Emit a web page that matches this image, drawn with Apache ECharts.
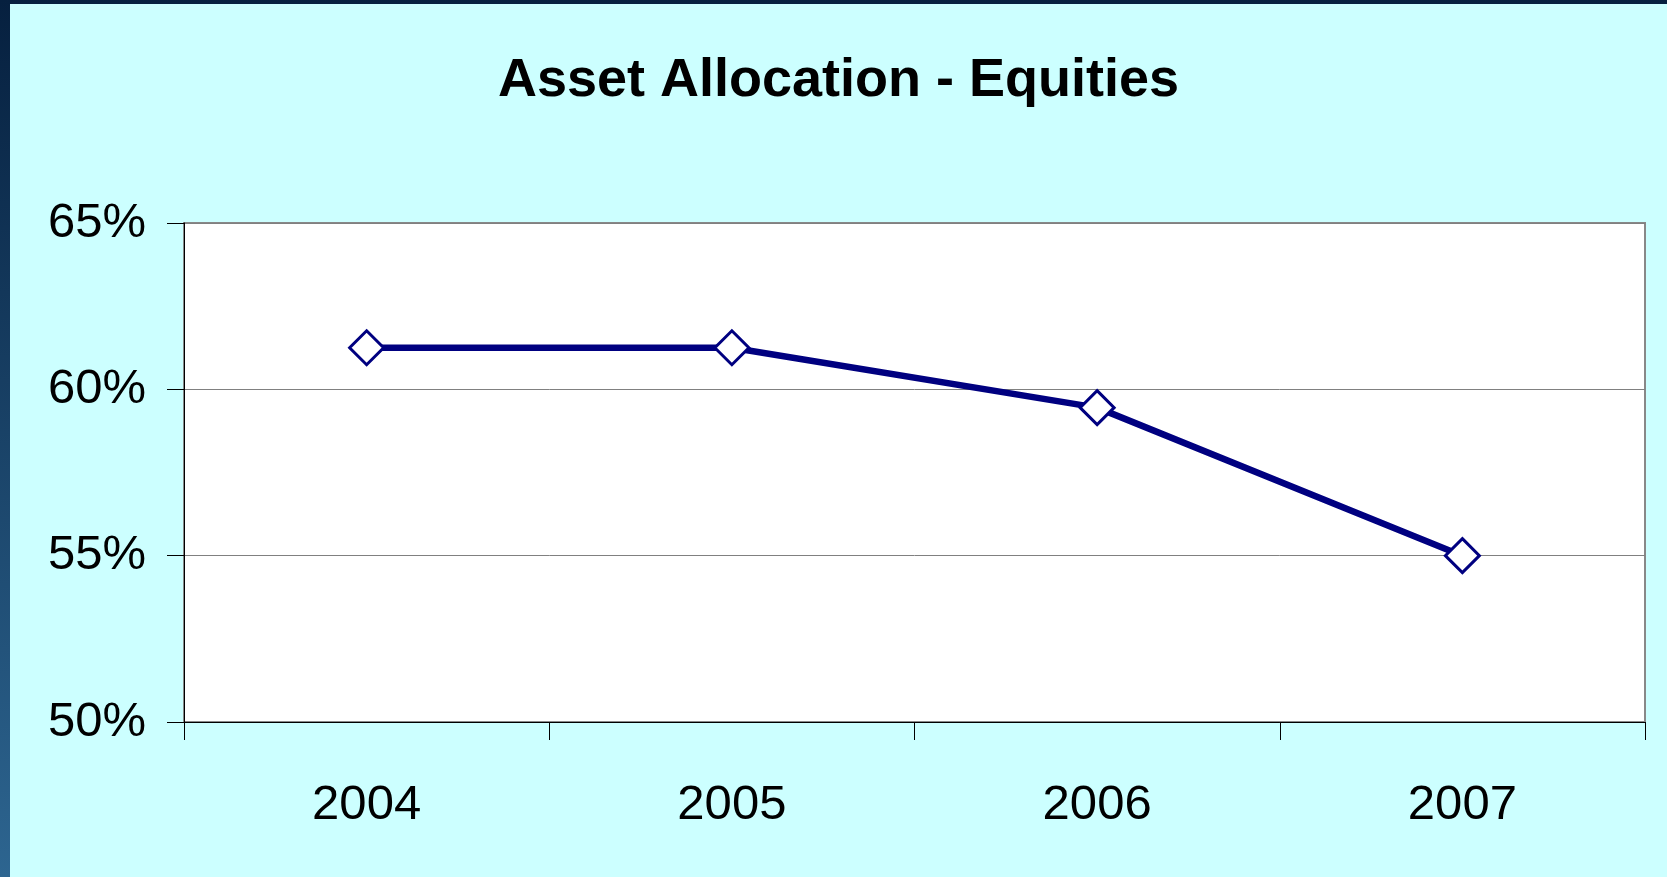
<!DOCTYPE html>
<html>
<head>
<meta charset="utf-8">
<script src="https://cdn.jsdelivr.net/npm/echarts@6/dist/echarts.min.js"></script>
<style>
  html, body { margin: 0; padding: 0; width: 1667px; height: 877px; overflow: hidden; }
  body { background: linear-gradient(to bottom, #06203f, #2d6590); position: relative; }
  #chart { position: absolute; left: 10px; top: 4px; width: 1657px; height: 873px; }
</style>
</head>
<body>
<div id="chart"></div>
<script>
const years = ['2004', '2005', '2006', '2007'];
const equityShare = [61.25, 61.25, 59.45, 55.0];
const yTicks = { min: 50, max: 65, step: 5 };

const chart = echarts.init(document.getElementById('chart'));

const option = {
    backgroundColor: '#ccffff',
    title: {
        text: 'Asset Allocation - Equities',
        left: 'center',
        top: 45,
        textStyle: {
            fontFamily: 'Liberation Sans',
            fontWeight: 'bold',
            fontSize: 54,
            color: '#000'
        }
    },
    grid: {
        left: 174,
        right: 22,
        top: 219,
        bottom: 155,
        show: true,
        backgroundColor: '#fff',
        borderColor: '#888',
        borderWidth: 2
    },
    xAxis: {
        type: 'category',
        data: years,
        boundaryGap: true,
        axisLine: { lineStyle: { color: '#000', width: 1 } },
        axisTick: { show: true, length: 18, lineStyle: { color: '#000' } },
        axisLabel: {
            margin: 59,
            fontFamily: 'Liberation Sans',
            fontSize: 49,
            color: '#000'
        }
    },
    yAxis: {
        type: 'value',
        min: yTicks.min,
        max: yTicks.max,
        interval: yTicks.step,
        axisLine: { show: true, lineStyle: { color: '#000', width: 1 } },
        axisTick: { show: true, length: 17, lineStyle: { color: '#000' } },
        axisLabel: {
            margin: 38,
            formatter: '{value}%',
            fontFamily: 'Liberation Sans',
            fontSize: 49,
            color: '#000',
            padding: [16, 0, 0, 0]
        },
        splitLine: { lineStyle: { color: '#808080', width: 1 } }
    },
    series: [{
        type: 'line',
        data: equityShare,
        symbol: 'diamond',
        symbolSize: 34,
        lineStyle: { color: '#000080', width: 6.5 },
        itemStyle: { color: '#fff', borderColor: '#000080', borderWidth: 3 },
        z: 3
    }],
    animation: false
};

chart.setOption(option);
</script>
</body>
</html>
